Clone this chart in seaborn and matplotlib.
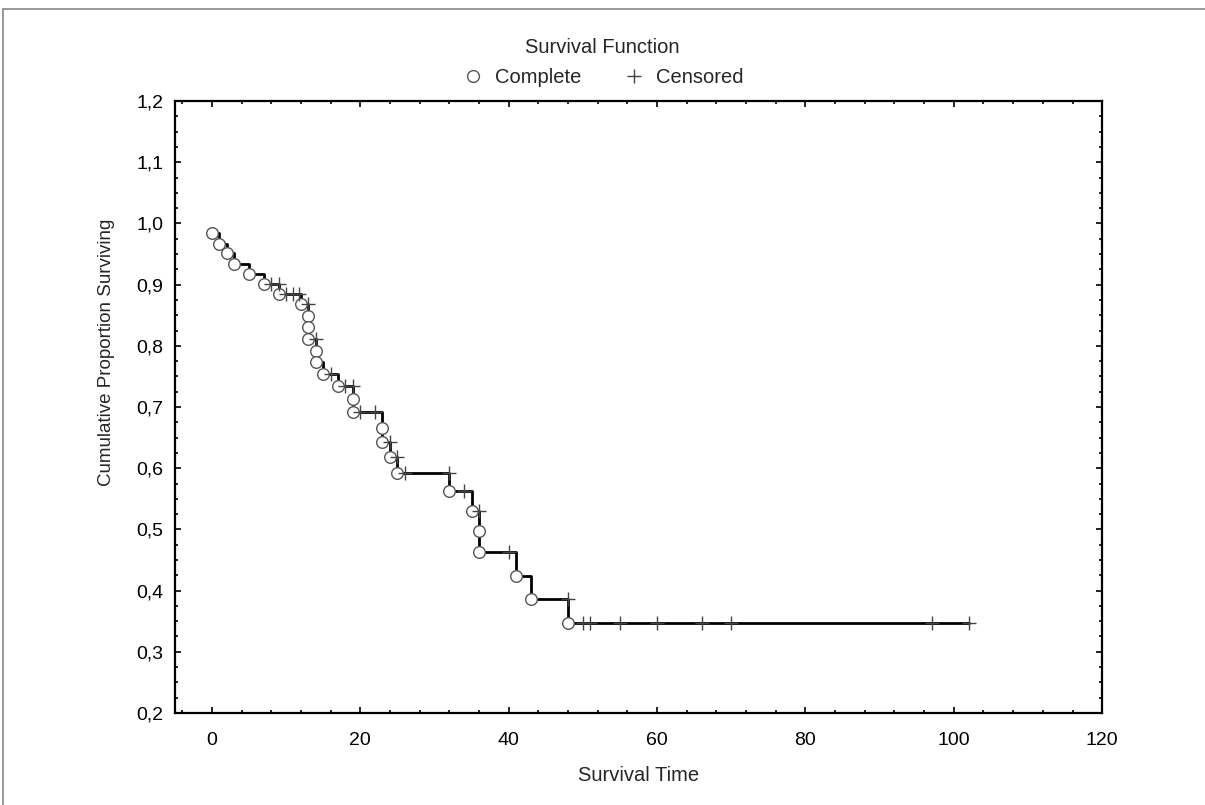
import matplotlib
matplotlib.use("Agg")
import matplotlib.pyplot as plt
from matplotlib.lines import Line2D
from matplotlib.ticker import MultipleLocator
import seaborn as sns
import pandas as pd

# event (complete) times and survival after each event
event_time = [0, 1, 2, 3, 5, 7, 9, 12, 13, 13, 13, 14, 14, 15, 17, 19, 19,
              23, 23, 24, 25, 32, 35, 36, 36, 41, 43, 48]
event_surv = [0.984, 0.967, 0.951, 0.934, 0.918, 0.901, 0.885, 0.868, 0.849,
              0.830, 0.811, 0.792, 0.773, 0.754, 0.734, 0.713, 0.692, 0.666,
              0.643, 0.619, 0.592, 0.563, 0.530, 0.497, 0.463, 0.424, 0.386,
              0.347]

# censored observations
cens_time = [8, 9, 10, 11, 11.8, 13, 14, 16, 18, 19, 20, 22, 24, 25, 26, 32,
             34, 36, 40, 48, 50, 51, 55, 60, 66, 70, 97, 102]
cens_surv = [0.901, 0.901, 0.885, 0.885, 0.885, 0.868, 0.811, 0.754, 0.734,
             0.734, 0.692, 0.692, 0.643, 0.619, 0.592, 0.592, 0.563, 0.530,
             0.463, 0.386, 0.347, 0.347, 0.347, 0.347, 0.347, 0.347, 0.347,
             0.347]

last_time = 102

yticks = [0.2, 0.3, 0.4, 0.5, 0.6, 0.7, 0.8, 0.9, 1.0, 1.1, 1.2]
ytick_labels = ["0,2", "0,3", "0,4", "0,5", "0,6", "0,7", "0,8", "0,9", "1,0", "1,1", "1,2"]
xticks = [0, 20, 40, 60, 80, 100, 120]

sns.set_style("ticks")
plt.rcParams['font.family'] = ['Liberation Sans', 'DejaVu Sans']

df_step = pd.DataFrame({"t": event_time + [last_time], "s": event_surv + [event_surv[-1]]})
df_ev = pd.DataFrame({"t": event_time, "s": event_surv})
df_cens = pd.DataFrame({"t": cens_time, "s": cens_surv})

fig = plt.figure(figsize=(12.05, 8.05), dpi=100)
ax = fig.add_axes([0.145, 0.1143, 0.7697, 0.7602])

sns.lineplot(data=df_step, x="t", y="s", ax=ax, color="black", lw=2.0,
             drawstyle="steps-post", sort=False, estimator=None, zorder=2)
sns.scatterplot(data=df_ev, x="t", y="s", ax=ax, marker="o", s=70,
                facecolor="white", edgecolor="#555555", linewidth=1.0, zorder=3)
sns.scatterplot(data=df_cens, x="t", y="s", ax=ax, marker="+", s=110,
                color="#444444", linewidth=1.0, zorder=4)

ax.set_xlim(-5, 120)
ax.set_ylim(0.2, 1.2)
ax.set_xticks(xticks)
ax.set_yticks(yticks)
ax.set_yticklabels(ytick_labels)
ax.xaxis.set_minor_locator(MultipleLocator(4))
ax.yaxis.set_minor_locator(MultipleLocator(0.025))
ax.tick_params(which="both", direction="in", top=True, right=True,
               labelsize=14, width=1.2, colors="black")
ax.tick_params(axis="x", which="major", length=4, pad=14)
ax.tick_params(axis="y", which="major", length=4, pad=8)
ax.tick_params(which="minor", length=2)
for sp in ax.spines.values():
    sp.set_linewidth(1.6)
    sp.set_color("black")

ax.set_xlabel("Survival Time", fontsize=14.5, labelpad=12)
ax.set_ylabel("Cumulative Proportion Surviving", fontsize=13.5)
ax.yaxis.set_label_coords(-0.064, 0.59)

handles = [
    Line2D([], [], ls="", marker="o", ms=8.5, mfc="white", mec="#555555", mew=1.0),
    Line2D([], [], ls="", marker="+", ms=10, color="#444444", mew=1.0),
]
leg = fig.legend(handles, ["Complete", "Censored"], title="Survival Function",
                 loc="upper center", bbox_to_anchor=(0.5, 0.975), ncol=2,
                 frameon=False, fontsize=14.5, title_fontsize=14.5,
                 handletextpad=0.5, columnspacing=2.0, handlelength=1.2,
                 labelspacing=0.3)
leg._legend_box.sep = 8

# outer frame (top and left edges)
fig.add_artist(Line2D([3 / 1205, 1], [1 - 9 / 805, 1 - 9 / 805], color="#888888", lw=1.2,
                      transform=fig.transFigure))
fig.add_artist(Line2D([3 / 1205, 3 / 1205], [0, 1 - 9 / 805], color="#888888", lw=1.2,
                      transform=fig.transFigure))

fig.savefig("out.png", dpi=100)
